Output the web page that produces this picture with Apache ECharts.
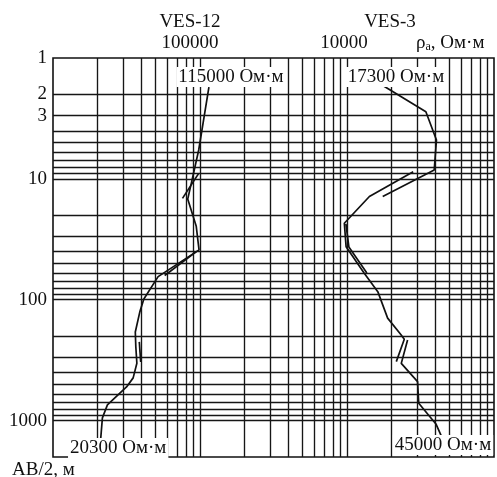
<!DOCTYPE html>
<html>
<head>
<meta charset="utf-8">
<script src="https://cdn.jsdelivr.net/npm/echarts@6/dist/echarts.min.js"></script>
<style>
  html, body { margin: 0; padding: 0; background: #fff; }
  #chart { width: 497px; height: 477px; }
</style>
</head>
<body>
<div id="chart"></div>
<script>
// Tick labels
const spacingTickLabels = [1, 2, 3, 10, 100, 1000];
const ves12TickLabels = [100000];
const ves3TickLabels = [10000];

// Log-paper grid: decades and the 1..9 multipliers inside each decade
const gridMultipliers = [1, 2, 3, 4, 5, 6, 7, 8, 9];
const rhoGridDecades = [10000, 100000, 1000000];      // on the VES-12 resistivity scale
const spacingGridDecades = [1, 10, 100, 1000];

// VES-12: AB/2 (m) and apparent resistivity (Ohm·m)
const ves12Spacing = [1.74, 5.77, 10.8, 14.7, 24.5, 38.7, 64.4, 98.5, 126, 185, 246, 335, 443, 526, 741, 950, 1445, 1620];
const ves12Rho     = [115000, 98000, 87400, 82500, 94200, 98500, 51900, 41500, 38960, 36300, 36600, 37200, 35100, 31640, 23450, 21680, 21080, 20300];
// VES-12 overlapping branch pieces
const ves12BranchASpacing = [9.0, 14.5];
const ves12BranchARho     = [98000, 76000];
const ves12BranchBSpacing = [40.0, 63.0];
const ves12BranchBRho     = [94500, 57500];
const ves12BranchCSpacing = [223, 327];
const ves12BranchCRho     = [38650, 39500];

// VES-3: AB/2 (m) and apparent resistivity (Ohm·m)
const ves3Branch1Spacing = [1.67, 2.78, 4.77, 8.44, 14.0];
const ves3Branch1Rho     = [17300, 34400, 40600, 39200, 17500];
const ves3Branch2Spacing = [8.72, 14.0, 23.3, 36.4, 60.4, 85.7, 142, 195, 212, 325];
const ves3Branch2Rho     = [28200, 14200, 9590, 9860, 13100, 16200, 18900, 23300, 24530, 21650];
const ves3Branch3Spacing = [215, 336, 476, 718, 1065, 1445];
const ves3Branch3Rho     = [25830, 23400, 30200, 30760, 40270, 45000];
const ves3BranchDSpacing = [23.6, 36.6, 60.0];
const ves3BranchDRho     = [9830, 10300, 13650];

const zip = (s, r) => s.map((v, i) => [r[i], v]);

const serifFont = 'Liberation Serif';
const ink = '#111';

const vLines = [];
rhoGridDecades.forEach((d, k) => {
  gridMultipliers.forEach(m => {
    if (k === 0 && m === 1) return;
    vLines.push({ xAxis: d * m });
  });
});
const hLines = [];
spacingGridDecades.forEach((d, k) => {
  gridMultipliers.forEach(m => {
    const v = d * m;
    if (v === 1 || v > 1000) return;
    hLines.push({ yAxis: v });
  });
});

const curveStyle = { color: ink, width: 1.7 };
function curve(name, xi, data, extra) {
  return Object.assign({
    name: name,
    type: 'line',
    xAxisIndex: xi,
    yAxisIndex: 0,
    data: data,
    showSymbol: false,
    symbol: 'none',
    lineStyle: curveStyle,
    animation: false,
    silent: true,
    z: 3
  }, extra || {});
}

const labelBase = {
  show: true,
  position: 'inside',
  fontFamily: serifFont,
  fontSize: 19,
  color: ink,
  opacity: 1,
  textBorderWidth: 0,
  textBorderColor: 'transparent',
  backgroundColor: '#fff',
  padding: [1, 2, 0, 2],
  formatter: p => p.value[0] + ' Ом·м'
};
function endLabel(spacing, rho, i, offset) {
  return { value: [rho[i], spacing[i]], label: Object.assign({}, labelBase, { offset: offset }) };
}

const chart = echarts.init(document.getElementById('chart'), null, { renderer: 'canvas' });
chart.setOption({
  backgroundColor: '#fff',
  animation: false,
  grid: {
    left: 53, top: 58, right: 3, bottom: 20,
    show: true, borderColor: ink, borderWidth: 1.6, backgroundColor: 'transparent'
  },
  xAxis: [
    {
      type: 'log', logBase: 10, min: 10000, max: 10000000, position: 'top',
      axisLine: { show: false }, axisTick: { show: false }, splitLine: { show: false },
      axisLabel: {
        customValues: ves12TickLabels, margin: 5, fontFamily: serifFont, fontSize: 19, color: ink,
        padding: [0, 20, 0, 0],
        formatter: v => String(Math.round(v))
      }
    },
    {
      type: 'log', logBase: 10, min: 100, max: 100000, position: 'top',
      axisLine: { show: false }, axisTick: { show: false }, splitLine: { show: false },
      axisLabel: {
        customValues: ves3TickLabels, margin: 5, fontFamily: serifFont, fontSize: 19, color: ink,
        padding: [0, 6, 0, 0],
        formatter: v => String(Math.round(v))
      }
    }
  ],
  yAxis: [{
    type: 'log', logBase: 10, min: 1, max: 2000, inverse: true,
    axisLine: { show: false }, axisTick: { show: false }, splitLine: { show: false },
    axisLabel: {
      customValues: spacingTickLabels, margin: 6, fontFamily: serifFont, fontSize: 19, color: ink,
      formatter: v => String(Math.round(v))
    }
  }],
  graphic: [
    { type: 'text', x: 190, y: 22, style: { text: 'VES-12', font: '19px "Liberation Serif"', fill: ink, textAlign: 'center', textVerticalAlign: 'middle' } },
    { type: 'text', x: 390, y: 22, style: { text: 'VES-3', font: '19px "Liberation Serif"', fill: ink, textAlign: 'center', textVerticalAlign: 'middle' } },
    { type: 'text', x: 416, y: 43, style: {
        text: '{r|ρ}{s|a}{t|, Ом·м}', textVerticalAlign: 'middle',
        rich: {
          r: { fontFamily: serifFont, fontSize: 19, fill: ink },
          s: { fontFamily: serifFont, fontSize: 12, fill: ink, padding: [8, 0, 0, 0] },
          t: { fontFamily: serifFont, fontSize: 19, fill: ink }
        }
      } },
    { type: 'text', x: 12, y: 470, style: { text: 'AB/2, м', font: '19px "Liberation Serif"', fill: ink, textAlign: 'left', textVerticalAlign: 'middle' } }
  ],
  series: [
    curve('VES-12', 0, zip(ves12Spacing, ves12Rho), {
      markLine: {
        silent: true, symbol: 'none', animation: false, z: 1,
        label: { show: false },
        lineStyle: { color: '#161616', width: 1.35, type: 'solid' },
        data: vLines.concat(hLines)
      }
    }),
    curve('VES-12 A', 0, zip(ves12BranchASpacing, ves12BranchARho)),
    curve('VES-12 B', 0, zip(ves12BranchBSpacing, ves12BranchBRho)),
    curve('VES-12 C', 0, zip(ves12BranchCSpacing, ves12BranchCRho)),
    curve('VES-3 1', 1, zip(ves3Branch1Spacing, ves3Branch1Rho)),
    curve('VES-3 2', 1, zip(ves3Branch2Spacing, ves3Branch2Rho)),
    curve('VES-3 3', 1, zip(ves3Branch3Spacing, ves3Branch3Rho)),
    curve('VES-3 D', 1, zip(ves3BranchDSpacing, ves3BranchDRho)),
    {
      name: 'VES-12 labels', type: 'scatter', xAxisIndex: 0, yAxisIndex: 0,
      symbolSize: 0, z: 10, silent: true, animation: false,
      itemStyle: { opacity: 1 },
      data: [
        endLabel(ves12Spacing, ves12Rho, 0, [22, -10]),
        endLabel(ves12Spacing, ves12Rho, ves12Spacing.length - 1, [20, 2])
      ]
    },
    {
      name: 'VES-3 labels', type: 'scatter', xAxisIndex: 1, yAxisIndex: 0,
      symbolSize: 0, z: 10, silent: true, animation: false,
      itemStyle: { opacity: 1 },
      data: [
        endLabel(ves3Branch1Spacing, ves3Branch1Rho, 0, [14, -8]),
        endLabel(ves3Branch3Spacing, ves3Branch3Rho, ves3Branch3Spacing.length - 1, [0, 5])
      ]
    }
  ]
});
</script>
</body>
</html>
